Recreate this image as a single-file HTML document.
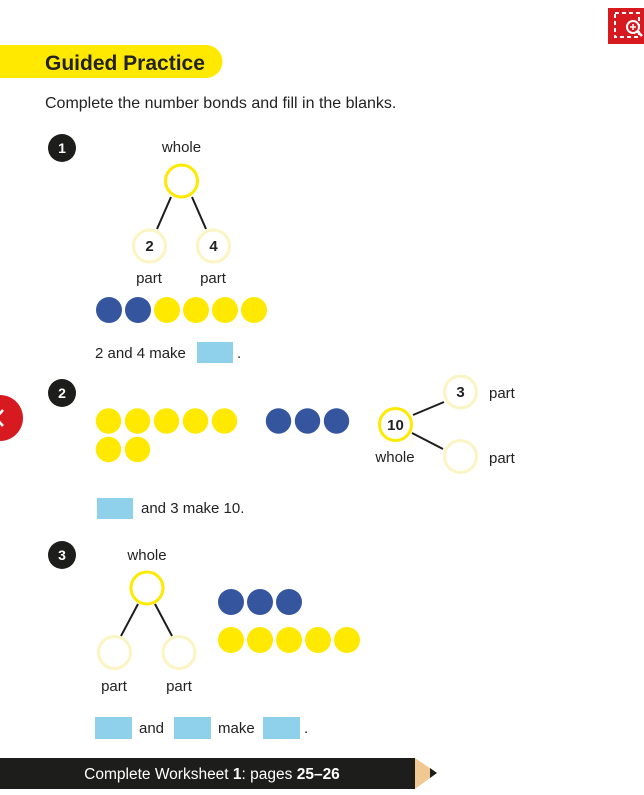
<!DOCTYPE html>
<html><head><meta charset="utf-8"><style>
body{margin:0;width:644px;height:795px;background:#fff;position:relative;overflow:hidden;font-family:"Liberation Sans",sans-serif;color:#222}
</style></head><body>
<svg width="644" height="795" style="position:absolute;left:0;top:0" font-family="Liberation Sans, sans-serif">
<rect x="608" y="8" width="36" height="36" fill="#d71920"/>
<rect x="615" y="13" width="24" height="24" fill="none" stroke="#fff" stroke-width="2" stroke-dasharray="4 3"/>
<circle cx="633" cy="27" r="6" fill="#d71920" stroke="#fff" stroke-width="2"/>
<line x1="637" y1="31" x2="642" y2="36" stroke="#fff" stroke-width="2.5"/>
<path d="M630 27h6M633 24v6" stroke="#fff" stroke-width="1.5"/>
<path d="M0 45H206a16.5 16.5 0 0 1 0 33H0z" fill="#ffe900"/>
<text x="45" y="70" font-size="21" font-weight="bold" fill="#222">Guided Practice</text>
<text x="45" y="108" font-size="16" fill="#222">Complete the number bonds and fill in the blanks.</text>
<g fill="#1d1d1b"><circle cx="62" cy="148" r="14"/><circle cx="62" cy="393" r="14"/><circle cx="62" cy="555" r="14"/></g>
<g fill="#fff" font-size="14" font-weight="bold" text-anchor="middle"><text x="62" y="153">1</text><text x="62" y="398">2</text><text x="62" y="560">3</text></g>
<circle cx="0" cy="418" r="23" fill="#d71920"/>
<path d="M3 410l-7 8 7 8" stroke="#fff" stroke-width="2.5" fill="none"/>
<g stroke="#1d1d1b" stroke-width="2">
<line x1="171" y1="197" x2="157" y2="229"/><line x1="192" y1="197" x2="206" y2="229"/>
<line x1="413" y1="415" x2="444" y2="402"/><line x1="412" y1="433" x2="443" y2="449"/>
<line x1="138" y1="604" x2="121" y2="636"/><line x1="155" y1="604" x2="172" y2="636"/>
</g>
<g fill="#fff" stroke="#ffe900" stroke-width="3">
<circle cx="181.5" cy="181" r="16"/><circle cx="395.5" cy="424.5" r="16"/><circle cx="147" cy="588" r="16"/>
</g>
<g fill="#fff" stroke="#fdf4c4" stroke-width="3">
<circle cx="149.5" cy="246" r="16"/><circle cx="213.5" cy="246" r="16"/>
<circle cx="460.5" cy="392" r="16"/><circle cx="460.5" cy="456.5" r="16"/>
<circle cx="114.5" cy="652.5" r="16"/><circle cx="179" cy="652.5" r="16"/>
</g>
<g font-size="15" font-weight="bold" text-anchor="middle" fill="#222">
<text x="149.5" y="251">2</text><text x="213.5" y="251">4</text><text x="395.5" y="430">10</text><text x="460.5" y="397">3</text>
</g>
<g font-size="15" fill="#222" text-anchor="middle">
<text x="181.5" y="152">whole</text><text x="149" y="283">part</text><text x="213" y="283">part</text>
<text x="395" y="462">whole</text><text x="147" y="560">whole</text><text x="114" y="691">part</text><text x="179" y="691">part</text>
</g>
<g font-size="15" fill="#222"><text x="489" y="398">part</text><text x="489" y="463">part</text></g>
<g fill="#35569f"><circle cx="109" cy="310" r="13"/><circle cx="138" cy="310" r="13"/>
<circle cx="278.5" cy="421" r="12.7"/><circle cx="307.5" cy="421" r="12.7"/><circle cx="336.5" cy="421" r="12.7"/>
<circle cx="231" cy="602" r="13"/><circle cx="260" cy="602" r="13"/><circle cx="289" cy="602" r="13"/></g>
<g fill="#ffe900"><circle cx="167" cy="310" r="13"/><circle cx="196" cy="310" r="13"/><circle cx="225" cy="310" r="13"/><circle cx="254" cy="310" r="13"/>
<circle cx="108.5" cy="421" r="12.7"/><circle cx="137.5" cy="421" r="12.7"/><circle cx="166.5" cy="421" r="12.7"/><circle cx="195.5" cy="421" r="12.7"/><circle cx="224.5" cy="421" r="12.7"/>
<circle cx="108.5" cy="449.5" r="12.7"/><circle cx="137.5" cy="449.5" r="12.7"/>
<circle cx="231" cy="640" r="13"/><circle cx="260" cy="640" r="13"/><circle cx="289" cy="640" r="13"/><circle cx="318" cy="640" r="13"/><circle cx="347" cy="640" r="13"/></g>
<g fill="#8fd1ea"><rect x="197" y="342" width="36" height="21"/><rect x="97" y="498" width="36" height="21"/>
<rect x="95" y="717" width="37" height="22"/><rect x="174" y="717" width="37" height="22"/><rect x="263" y="717" width="37" height="22"/></g>
<g font-size="15" fill="#222">
<text x="95" y="358">2 and 4 make</text><text x="237" y="358">.</text>
<text x="141" y="513">and 3 make 10.</text>
<text x="139" y="733">and</text><text x="218" y="733">make</text><text x="304" y="733">.</text>
</g>
<rect x="0" y="758" width="415" height="31" fill="#1d1d1b"/>
<path d="M415 758L437 773L415 789z" fill="#f0c992"/>
<path d="M430 768L437 773L430 778z" fill="#1d1d1b"/>
<text x="212" y="779" font-size="15.5" fill="#fff" text-anchor="middle">Complete Worksheet <tspan font-weight="bold">1</tspan>: pages <tspan font-weight="bold">25–26</tspan></text>
</svg>
</body></html>
